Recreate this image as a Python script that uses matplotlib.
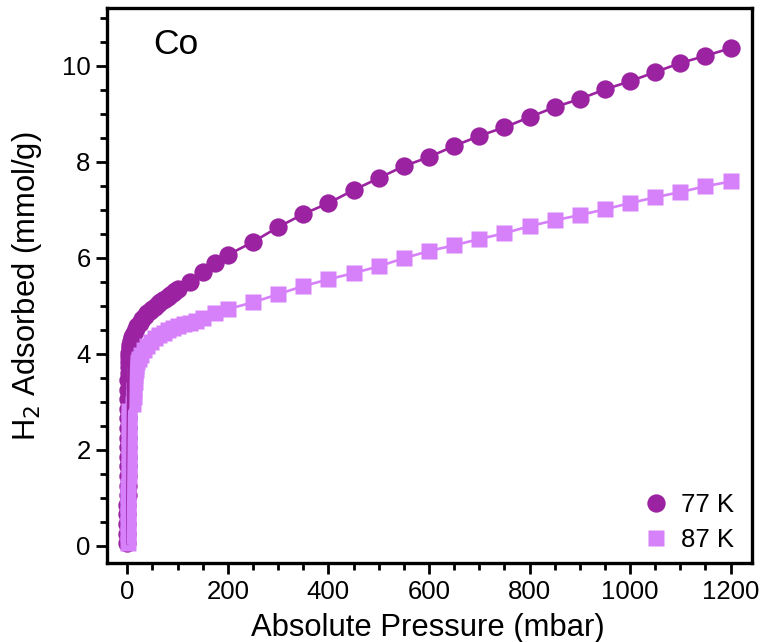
import numpy as np
import matplotlib as mpl
mpl.use("Agg")
import matplotlib.pyplot as plt

plt.rcParams["font.family"] = ["Liberation Sans", "DejaVu Sans"]

# 77 K isotherm (pressure in mbar, uptake in mmol/g)
p77 = [0.1, 0.15, 0.2, 0.25, 0.3, 0.35, 0.4, 0.5, 0.6, 0.7, 0.8, 0.9, 1.0, 1.2,
       1.4, 1.6, 1.8, 2.0, 2.3, 2.6, 3.0, 3.5, 4.0, 5.0, 6.0, 8.0, 10, 12, 15, 20,
       25, 30, 35, 40, 45, 50, 55, 60, 65, 70, 75, 80, 85, 90, 95, 100,
       125, 150, 175, 200, 250, 300, 350, 400, 450, 500, 550, 600, 650, 700,
       750, 800, 850, 900, 950, 1000, 1050, 1100, 1150, 1200]
q77 = [0.05, 0.25, 0.45, 0.65, 0.85, 1.05, 1.25, 1.45, 1.65, 1.85, 2.05, 2.25, 2.45, 2.65,
       2.85, 3.05, 3.25, 3.45, 3.6, 3.72, 3.83, 3.93, 4.02, 4.12, 4.18, 4.27, 4.34, 4.40, 4.47, 4.57,
       4.65, 4.72, 4.78, 4.84, 4.89, 4.94, 4.98, 5.03, 5.07, 5.11, 5.15, 5.19, 5.23, 5.27, 5.31, 5.35,
       5.49, 5.70, 5.89, 6.06, 6.33, 6.64, 6.91, 7.14, 7.41, 7.66, 7.91, 8.10, 8.33, 8.54,
       8.72, 8.93, 9.14, 9.31, 9.51, 9.68, 9.87, 10.06, 10.21, 10.37]

# 87 K isotherm
p87 = [1.0, 1.2, 1.4, 1.6, 1.8, 2.0, 2.2, 2.4, 2.6, 2.8, 3.0, 3.2, 3.4, 3.6, 3.8,
       12, 13, 14, 15, 16, 17, 18, 20, 23, 27, 33, 40, 47, 55, 63, 72, 81, 90, 100,
       112, 125, 137, 150, 175, 200, 250, 300, 350, 400, 450, 500, 550, 600, 650, 700,
       750, 800, 850, 900, 950, 1000, 1050, 1100, 1150, 1200]
q87 = [0.05, 0.25, 0.45, 0.65, 0.85, 1.05, 1.25, 1.45, 1.65, 1.85, 2.05, 2.25, 2.45, 2.65, 2.8,
       2.95, 3.1, 3.25, 3.4, 3.55, 3.65, 3.75, 3.83, 3.88, 3.97, 4.07, 4.16, 4.24, 4.32, 4.38, 4.44, 4.49, 4.53, 4.57,
       4.61, 4.65, 4.69, 4.74, 4.84, 4.93, 5.07, 5.24, 5.41, 5.55, 5.68, 5.82, 5.99, 6.14, 6.26, 6.39,
       6.51, 6.66, 6.78, 6.89, 7.01, 7.14, 7.26, 7.37, 7.49, 7.59]

c77 = "#9b22a0"
c87 = "#d681fa"

fig = plt.figure(figsize=(7.66, 6.42), dpi=100)
ax = fig.add_axes([0.140, 0.1226, 0.842, 0.8644])

# markers first, connecting lines on top
ax.plot(p77, q77, ls="none", marker="o", ms=13.2, color=c77, mec="none", label="77 K", zorder=2)
ax.plot(p87, q87, ls="none", marker="s", ms=12.2, color=c87, mec="none", label="87 K", zorder=2)
ax.plot(p77, q77, color=c77, lw=1.9, zorder=3)
ax.plot(p87, q87, color=c87, lw=1.9, zorder=3)

ax.set_xlim(-40, 1243)
ax.set_ylim(-0.37, 11.2)
ax.set_xticks(np.arange(0, 1201, 200))
ax.set_xticks(np.arange(0, 1201, 50), minor=True)
ax.set_yticks(np.arange(0, 11, 2))
ax.set_yticks(np.arange(0, 11.1, 0.5), minor=True)

for s in ax.spines.values():
    s.set_linewidth(2.4)
ax.tick_params(which="both", direction="out", width=2.0, top=False, right=False, labelsize=18.5)
ax.tick_params(which="major", length=8, pad=4)
ax.tick_params(which="minor", length=5)

ax.set_xlabel("Absolute Pressure (mbar)", fontsize=22.3)
ax.set_ylabel("H$_2$ Adsorbed (mmol/g)", fontsize=22.3)
ax.xaxis.set_label_coords(0.497, -0.09)
ax.yaxis.set_label_coords(-0.098, 0.5)

ax.text(0.071, 0.934, "Co", transform=ax.transAxes, fontsize=25.5, ha="left", va="center")

ax.legend(loc="lower right", bbox_to_anchor=(1.0, -0.0115), frameon=False, fontsize=18.5,
          handlelength=1.0, handletextpad=0.5, labelspacing=0.41, borderaxespad=0.3)

fig.savefig("out.png", dpi=100)
